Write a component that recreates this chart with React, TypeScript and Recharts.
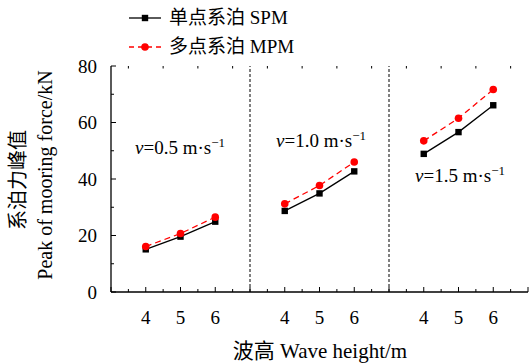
import { LineChart, Line, XAxis, YAxis, ReferenceLine } from "recharts"

const waveHeights = [4, 5, 6]
const velocities = ["0.5", "1.0", "1.5"]
const spm = [
  [15.1, 19.6, 24.9],
  [28.7, 34.9, 42.7],
  [48.9, 56.6, 66.1],
]
const mpm = [
  [16.1, 20.7, 26.5],
  [31.2, 37.7, 46.0],
  [53.5, 61.5, 71.7],
]
const yTicks = [0, 10, 20, 30, 40, 50, 60, 70, 80]
const rightTicks = [10, 30, 50, 70]

// one row per x slot; a null row between panels breaks the lines
const data: { x: number; spm: number | null; mpm: number | null }[] = []
velocities.forEach((_, p) => {
  waveHeights.forEach((_, i) => {
    data.push({ x: p * 4 + i + 1, spm: spm[p][i], mpm: mpm[p][i] })
  })
  if (p < velocities.length - 1) data.push({ x: p * 4 + 4, spm: null, mpm: null })
})

const W = 529, H = 364
const LEFT = 111, TOP = 66, RIGHT = 528, BOTTOM = 292
const font = "'Liberation Serif', 'Noto Sans CJK SC', serif"
const halfTicks = Array.from({ length: 25 }, (_, i) => i / 2)
const topTicks = halfTicks.filter((t) => t % 1 !== 0)

const label = (x: number) => {
  const slot = x % 4
  return Number.isInteger(x) && slot !== 0 ? String(waveHeights[slot - 1]) : ""
}

const BottomTick = (props: any) => {
  const { x, payload } = props
  const v = payload.value
  const major = Number.isInteger(v)
  return (
    <g>
      <line x1={x} x2={x} y1={BOTTOM} y2={BOTTOM - (major ? 5 : 3)} stroke="#000" strokeWidth={1} />
      <text x={x} y={BOTTOM + 32} textAnchor="middle" fontSize={19} fontFamily={font} fill="#000">
        {label(v)}
      </text>
    </g>
  )
}

const TopTick = (props: any) => {
  const { x } = props
  return <line x1={x} x2={x} y1={TOP} y2={TOP + 2.5} stroke="#000" strokeWidth={1} />
}

const LeftTick = (props: any) => {
  const { y, payload } = props
  const major = payload.value % 20 === 0
  return (
    <g>
      <line x1={LEFT} x2={LEFT + (major ? 5 : 3)} y1={y} y2={y} stroke="#000" strokeWidth={1} />
      {major && (
        <text x={LEFT - 14} y={y + 6.5} textAnchor="end" fontSize={19} fontFamily={font} fill="#000">
          {payload.value}
        </text>
      )}
    </g>
  )
}

const RightTick = (props: any) => {
  const { y } = props
  return <line x1={RIGHT} x2={RIGHT - 4} y1={y} y2={y} stroke="#000" strokeWidth={1} />
}

const Square = (props: any) => {
  const { cx, cy, index } = props
  if (cx == null || cy == null) return <g key={index} />
  return <rect key={index} x={cx - 3.2} y={cy - 3.2} width={6.4} height={6.4} fill="#000" />
}

const Circle = (props: any) => {
  const { cx, cy, index } = props
  if (cx == null || cy == null) return <g key={index} />
  return <circle key={index} cx={cx} cy={cy} r={3.8} fill="#ff0000" />
}

const YTitle = () => (
  <g fontFamily={font} fontSize={20} fill="#000">
    <text transform={`translate(25, ${BOTTOM - 112}) rotate(-90)`} textAnchor="middle">系泊力峰值</text>
    <text transform={`translate(52, ${BOTTOM - 117}) rotate(-90)`} textAnchor="middle">Peak of mooring force/kN</text>
  </g>
)

const LegendBox = () => (
  <div style={{ fontFamily: font, fontSize: 19, color: "#000", lineHeight: "29px" }}>
    <div style={{ display: "flex", alignItems: "center" }}>
      <svg width={36} height={12} style={{ marginRight: 5 }}>
        <line x1={1} x2={33} y1={6} y2={6} stroke="#000" strokeWidth={1.3} />
        <rect x={13.8} y={2.8} width={6.4} height={6.4} fill="#000" />
      </svg>
      单点系泊 SPM
    </div>
    <div style={{ display: "flex", alignItems: "center" }}>
      <svg width={36} height={12} style={{ marginRight: 5 }}>
        <line x1={1} x2={33} y1={6} y2={6} stroke="#ff0000" strokeWidth={1.3} strokeDasharray="5 4" />
        <circle cx={17} cy={6} r={3.8} fill="#ff0000" />
      </svg>
      多点系泊 MPM
    </div>
  </div>
)

const notes = [
  { left: 135, top: 137 },
  { left: 276, top: 130 },
  { left: 415, top: 165 },
]

export default function App() {
  return (
    <div style={{ position: "absolute", left: 0, top: 0, width: W, height: H, background: "#fff" }}>
      <LineChart
        width={W}
        height={H}
        data={data}
        margin={{ top: TOP - 10, left: LEFT - 40, right: W - RIGHT - 1, bottom: H - BOTTOM - 30 }}
      >
        <XAxis
          xAxisId="b"
          dataKey="x"
          type="number"
          domain={[0, 12]}
          ticks={halfTicks}
          interval={0}
          tickLine={false}
          tick={<BottomTick />}
          height={30}
          axisLine={{ stroke: "#000", strokeWidth: 1.3 }}
        />
        <XAxis
          xAxisId="t"
          dataKey="x"
          type="number"
          orientation="top"
          domain={[0, 12]}
          ticks={topTicks}
          interval={0}
          tickLine={false}
          axisLine={false}
          tick={<TopTick />}
          height={10}
        />
        <YAxis
          yAxisId="l"
          domain={[0, 80]}
          ticks={yTicks}
          interval={0}
          tickLine={false}
          tick={<LeftTick />}
          width={40}
          axisLine={{ stroke: "#000", strokeWidth: 1.3 }}
          label={{ content: () => <YTitle /> }}
        />
        <YAxis
          yAxisId="r"
          orientation="right"
          domain={[0, 80]}
          ticks={rightTicks}
          interval={0}
          tickLine={false}
          axisLine={false}
          tick={<RightTick />}
          width={1}
        />
        {[4, 8].map((v) => (
          <ReferenceLine key={v} xAxisId="b" yAxisId="l" x={v} stroke="#000" strokeWidth={1} strokeDasharray="3 2" />
        ))}
        <Line
          xAxisId="b"
          yAxisId="l"
          dataKey="spm"
          stroke="#000"
          strokeWidth={1.3}
          dot={Square}
          activeDot={false}
          isAnimationActive={false}
        />
        <Line
          xAxisId="b"
          yAxisId="l"
          dataKey="mpm"
          stroke="#ff0000"
          strokeWidth={1.3}
          strokeDasharray="6 4"
          dot={Circle}
          activeDot={false}
          isAnimationActive={false}
        />
      </LineChart>
      <div style={{ position: "absolute", left: 128, top: 3, width: 220 }}>
        <LegendBox />
      </div>
      <div
        style={{
          position: "absolute", left: 220, top: 334, width: 200, textAlign: "center",
          fontFamily: font, fontSize: 21, whiteSpace: "nowrap",
        }}
      >
        波高 Wave height/m
      </div>
      {notes.map((n, i) => (
        <div
          key={i}
          style={{ position: "absolute", left: n.left, top: n.top, fontFamily: font, fontSize: 19, whiteSpace: "nowrap" }}
        >
          <i>v</i>={velocities[i]} m·s<sup style={{ fontSize: 13, verticalAlign: "top", lineHeight: "12px" }}>−1</sup>
        </div>
      ))}
    </div>
  )
}
